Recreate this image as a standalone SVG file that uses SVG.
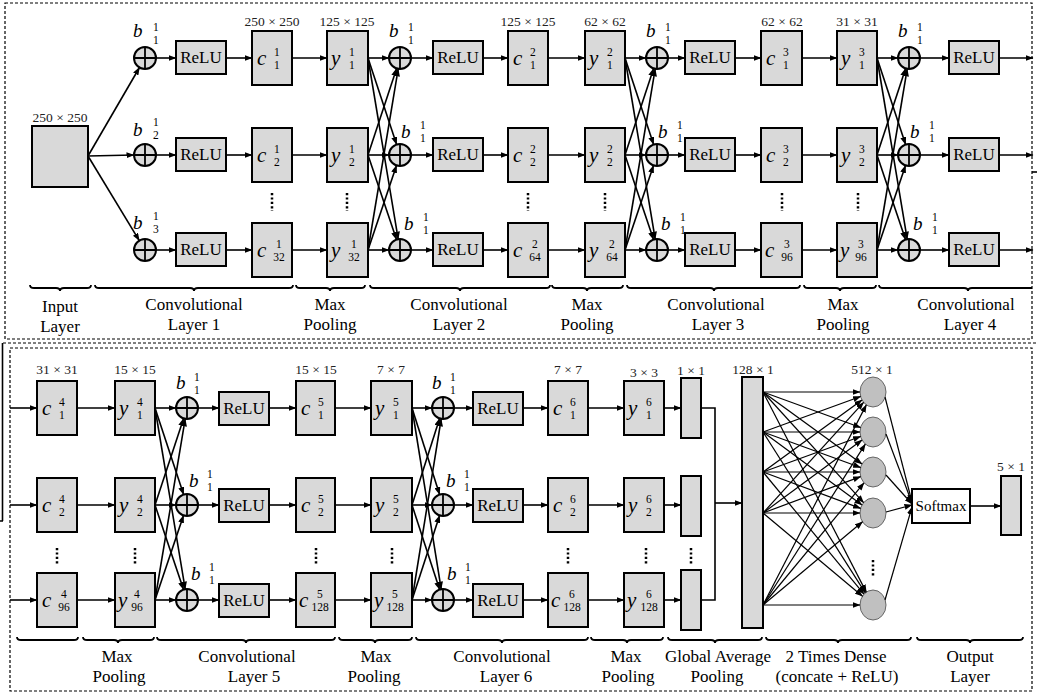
<svg xmlns="http://www.w3.org/2000/svg" width="1038" height="697" viewBox="0 0 1038 697">
<defs>
<marker id="ah" markerWidth="8" markerHeight="6" refX="7.5" refY="3" orient="auto" markerUnits="userSpaceOnUse">
<path d="M0,0 L8,3 L0,6 z" fill="#000"/>
</marker>
<g id="plus">
<circle cx="0" cy="0" r="11" fill="#d9d9d9" stroke="#000" stroke-width="2"/>
<path d="M-11,0 H11 M0,-11 V11" stroke="#000" stroke-width="1.8"/>
</g>
<ellipse id="neuron" cx="0" cy="0" rx="13" ry="15" fill="#c0c0c0" stroke="#666" stroke-width="1"/>
</defs>
<style>
.box{fill:#d9d9d9;stroke:#000;stroke-width:2}
.wbox{fill:#fff;stroke:#000;stroke-width:2}
.ln{stroke:#000;stroke-width:1.6;fill:none}
.ar{stroke:#000;stroke-width:1.6;fill:none;marker-end:url(#ah)}
.dn{stroke:#000;stroke-width:1.2;fill:none;marker-end:url(#ah)}
.br{stroke:#000;stroke-width:1.8;fill:none}
.dots{stroke:#000;stroke-width:2.5;stroke-dasharray:2.2,2.2;fill:none}
.frame{stroke:#000;stroke-width:1.2;stroke-dasharray:3,2;fill:none}
text{font-family:"Liberation Serif","Times New Roman",serif;fill:#000}
.t{font-size:17px;text-anchor:middle}
.relu{font-size:17px;text-anchor:middle}
.sz{font-size:13.5px;text-anchor:middle;fill:#222}
.v{font-size:21px;font-style:italic}
.bv{font-size:19px;font-style:italic}
.d{font-size:11.5px;font-style:normal}
.sm{font-size:15px;text-anchor:middle}
</style>

<g id="frames">
<rect class="frame" x="5" y="3" width="1027" height="336"/>
<rect class="frame" x="10" y="348" width="1022" height="343"/>
</g>

<!-- ================= TOP SECTION ================= -->
<g id="input"><rect class="box" x="32" y="126" width="56" height="61"/><text class="sz" x="60" y="122">250 × 250</text></g>

<g id="add1_1"><use href="#plus" x="145" y="58"/><text class="bv" x="133" y="37">b<tspan class="d" x="153.1" y="31.2">1</tspan><tspan class="d" x="153.1" y="44">1</tspan></text></g>
<g id="add1_2"><use href="#plus" x="145" y="155"/><text class="bv" x="133" y="136">b<tspan class="d" x="153.1" y="126.2">1</tspan><tspan class="d" x="153.1" y="139">2</tspan></text></g>
<g id="add1_3"><use href="#plus" x="145" y="250"/><text class="bv" x="133" y="229">b<tspan class="d" x="153.1" y="220.2">1</tspan><tspan class="d" x="153.1" y="233">3</tspan></text></g>
<g id="relu1_1"><rect class="box" x="176" y="41" width="50" height="33"/><text class="relu" x="201" y="63">ReLU</text></g>
<g id="relu1_2"><rect class="box" x="176" y="138" width="50" height="33"/><text class="relu" x="201" y="160">ReLU</text></g>
<g id="relu1_3"><rect class="box" x="176" y="233" width="50" height="33"/><text class="relu" x="201" y="255">ReLU</text></g>
<g id="c1_1"><rect class="box" x="252" y="31" width="40" height="54"/><text class="v" x="257" y="65">c<tspan class="d" x="274.1" y="56.2">1</tspan><tspan class="d" x="274.1" y="69">1</tspan></text><text class="sz" x="272" y="26">250 × 250</text></g>
<g id="c1_2"><rect class="box" x="252" y="128" width="40" height="54"/><text class="v" x="257" y="162">c<tspan class="d" x="274.1" y="153.2">1</tspan><tspan class="d" x="274.1" y="166">2</tspan></text></g>
<g id="c1_3"><rect class="box" x="252" y="223" width="40" height="54"/><text class="v" x="257" y="257">c<tspan class="d" x="276.1" y="248.2">1</tspan><tspan class="d" x="273.25" y="261">32</tspan></text></g>
<g id="y1_1"><rect class="box" x="327" y="31" width="41" height="54"/><text class="v" x="331" y="65">y<tspan class="d" x="349.1" y="56.2">1</tspan><tspan class="d" x="349.1" y="69">1</tspan></text><text class="sz" x="347" y="26">125 × 125</text></g>
<g id="y1_2"><rect class="box" x="327" y="128" width="41" height="54"/><text class="v" x="331" y="162">y<tspan class="d" x="349.1" y="153.2">1</tspan><tspan class="d" x="349.1" y="166">2</tspan></text></g>
<g id="y1_3"><rect class="box" x="327" y="223" width="41" height="54"/><text class="v" x="331" y="257">y<tspan class="d" x="351.1" y="248.2">1</tspan><tspan class="d" x="348.25" y="261">32</tspan></text></g>

<g id="add2_1"><use href="#plus" x="400" y="58"/><text class="bv" x="389" y="37">b<tspan class="d" x="408.1" y="31.2">1</tspan><tspan class="d" x="408.1" y="44">1</tspan></text></g>
<g id="add2_2"><use href="#plus" x="400" y="155"/><text class="bv" x="401" y="138">b<tspan class="d" x="420.1" y="129.2">1</tspan><tspan class="d" x="420.1" y="142">1</tspan></text></g>
<g id="add2_3"><use href="#plus" x="400" y="250"/><text class="bv" x="404" y="230">b<tspan class="d" x="423.1" y="221.2">1</tspan><tspan class="d" x="423.1" y="234">1</tspan></text></g>
<g id="relu2_1"><rect class="box" x="433" y="41" width="50" height="33"/><text class="relu" x="458" y="63">ReLU</text></g>
<g id="relu2_2"><rect class="box" x="433" y="138" width="50" height="33"/><text class="relu" x="458" y="160">ReLU</text></g>
<g id="relu2_3"><rect class="box" x="433" y="233" width="50" height="33"/><text class="relu" x="458" y="255">ReLU</text></g>
<g id="c2_1"><rect class="box" x="508" y="31" width="40" height="54"/><text class="v" x="513" y="65">c<tspan class="d" x="530.1" y="56.2">2</tspan><tspan class="d" x="530.1" y="69">1</tspan></text><text class="sz" x="528" y="26">125 × 125</text></g>
<g id="c2_2"><rect class="box" x="508" y="128" width="40" height="54"/><text class="v" x="513" y="162">c<tspan class="d" x="530.1" y="153.2">2</tspan><tspan class="d" x="530.1" y="166">2</tspan></text></g>
<g id="c2_3"><rect class="box" x="508" y="223" width="40" height="54"/><text class="v" x="513" y="257">c<tspan class="d" x="532.1" y="248.2">2</tspan><tspan class="d" x="529.25" y="261">64</tspan></text></g>
<g id="y2_1"><rect class="box" x="585" y="31" width="40" height="54"/><text class="v" x="589" y="65">y<tspan class="d" x="607.1" y="56.2">2</tspan><tspan class="d" x="607.1" y="69">1</tspan></text><text class="sz" x="605" y="26">62 × 62</text></g>
<g id="y2_2"><rect class="box" x="585" y="128" width="40" height="54"/><text class="v" x="589" y="162">y<tspan class="d" x="607.1" y="153.2">2</tspan><tspan class="d" x="607.1" y="166">2</tspan></text></g>
<g id="y2_3"><rect class="box" x="585" y="223" width="40" height="54"/><text class="v" x="589" y="257">y<tspan class="d" x="609.1" y="248.2">2</tspan><tspan class="d" x="606.25" y="261">64</tspan></text></g>

<g id="add3_1"><use href="#plus" x="657" y="58"/><text class="bv" x="646" y="37">b<tspan class="d" x="665.1" y="31.2">1</tspan><tspan class="d" x="665.1" y="44">1</tspan></text></g>
<g id="add3_2"><use href="#plus" x="657" y="155"/><text class="bv" x="658" y="138">b<tspan class="d" x="677.1" y="129.2">1</tspan><tspan class="d" x="677.1" y="142">1</tspan></text></g>
<g id="add3_3"><use href="#plus" x="657" y="250"/><text class="bv" x="661" y="230">b<tspan class="d" x="680.1" y="221.2">1</tspan><tspan class="d" x="680.1" y="234">1</tspan></text></g>
<g id="relu3_1"><rect class="box" x="685" y="41" width="50" height="33"/><text class="relu" x="710" y="63">ReLU</text></g>
<g id="relu3_2"><rect class="box" x="685" y="138" width="50" height="33"/><text class="relu" x="710" y="160">ReLU</text></g>
<g id="relu3_3"><rect class="box" x="685" y="233" width="50" height="33"/><text class="relu" x="710" y="255">ReLU</text></g>
<g id="c3_1"><rect class="box" x="761" y="31" width="41" height="54"/><text class="v" x="766" y="65">c<tspan class="d" x="783.1" y="56.2">3</tspan><tspan class="d" x="783.1" y="69">1</tspan></text><text class="sz" x="782" y="26">62 × 62</text></g>
<g id="c3_2"><rect class="box" x="761" y="128" width="41" height="54"/><text class="v" x="766" y="162">c<tspan class="d" x="783.1" y="153.2">3</tspan><tspan class="d" x="783.1" y="166">2</tspan></text></g>
<g id="c3_3"><rect class="box" x="761" y="223" width="41" height="54"/><text class="v" x="765" y="257">c<tspan class="d" x="784.1" y="248.2">3</tspan><tspan class="d" x="781.25" y="261">96</tspan></text></g>
<g id="y3_1"><rect class="box" x="837" y="31" width="40" height="54"/><text class="v" x="841" y="65">y<tspan class="d" x="859.1" y="56.2">3</tspan><tspan class="d" x="859.1" y="69">1</tspan></text><text class="sz" x="857" y="26">31 × 31</text></g>
<g id="y3_2"><rect class="box" x="837" y="128" width="40" height="54"/><text class="v" x="841" y="162">y<tspan class="d" x="859.1" y="153.2">3</tspan><tspan class="d" x="859.1" y="166">2</tspan></text></g>
<g id="y3_3"><rect class="box" x="837" y="223" width="40" height="54"/><text class="v" x="840" y="257">y<tspan class="d" x="858.1" y="248.2">3</tspan><tspan class="d" x="855.25" y="261">96</tspan></text></g>

<g id="add4_1"><use href="#plus" x="909" y="58"/><text class="bv" x="898" y="37">b<tspan class="d" x="917.1" y="31.2">1</tspan><tspan class="d" x="917.1" y="44">1</tspan></text></g>
<g id="add4_2"><use href="#plus" x="909" y="155"/><text class="bv" x="910" y="138">b<tspan class="d" x="929.1" y="129.2">1</tspan><tspan class="d" x="929.1" y="142">1</tspan></text></g>
<g id="add4_3"><use href="#plus" x="909" y="250"/><text class="bv" x="913" y="230">b<tspan class="d" x="932.1" y="221.2">1</tspan><tspan class="d" x="932.1" y="234">1</tspan></text></g>
<g id="relu4_1"><rect class="box" x="949" y="41" width="50" height="33"/><text class="relu" x="974" y="63">ReLU</text></g>
<g id="relu4_2"><rect class="box" x="949" y="138" width="50" height="33"/><text class="relu" x="974" y="160">ReLU</text></g>
<g id="relu4_3"><rect class="box" x="949" y="233" width="50" height="33"/><text class="relu" x="974" y="255">ReLU</text></g>

<!-- ================= BOTTOM SECTION ================= -->
<g id="c4_1"><rect class="box" x="37" y="381" width="40" height="54"/><text class="v" x="42" y="415">c<tspan class="d" x="59.1" y="406.2">4</tspan><tspan class="d" x="59.1" y="419">1</tspan></text><text class="sz" x="57" y="374">31 × 31</text></g>
<g id="c4_2"><rect class="box" x="37" y="478" width="40" height="54"/><text class="v" x="42" y="512">c<tspan class="d" x="59.1" y="503.2">4</tspan><tspan class="d" x="59.1" y="516">2</tspan></text></g>
<g id="c4_3"><rect class="box" x="37" y="573" width="40" height="54"/><text class="v" x="42" y="607">c<tspan class="d" x="61.1" y="598.2">4</tspan><tspan class="d" x="58.25" y="611">96</tspan></text></g>
<g id="y4_1"><rect class="box" x="115" y="381" width="40" height="54"/><text class="v" x="119" y="415">y<tspan class="d" x="137.1" y="406.2">4</tspan><tspan class="d" x="137.1" y="419">1</tspan></text><text class="sz" x="135" y="374">15 × 15</text></g>
<g id="y4_2"><rect class="box" x="115" y="478" width="40" height="54"/><text class="v" x="119" y="512">y<tspan class="d" x="137.1" y="503.2">4</tspan><tspan class="d" x="137.1" y="516">2</tspan></text></g>
<g id="y4_3"><rect class="box" x="115" y="573" width="40" height="54"/><text class="v" x="118" y="607">y<tspan class="d" x="134.1" y="598.2">4</tspan><tspan class="d" x="131.25" y="611">96</tspan></text></g>

<g id="add5_1"><use href="#plus" x="187" y="408"/><text class="bv" x="176" y="389">b<tspan class="d" x="194.1" y="381.2">1</tspan><tspan class="d" x="194.1" y="394">1</tspan></text></g>
<g id="add5_2"><use href="#plus" x="187" y="505"/><text class="bv" x="189" y="487">b<tspan class="d" x="207.1" y="478.2">1</tspan><tspan class="d" x="207.1" y="491">1</tspan></text></g>
<g id="add5_3"><use href="#plus" x="187" y="600"/><text class="bv" x="191" y="580">b<tspan class="d" x="209.1" y="571.2">1</tspan><tspan class="d" x="209.1" y="584">1</tspan></text></g>
<g id="relu5_1"><rect class="box" x="219" y="392" width="50" height="33"/><text class="relu" x="244" y="414">ReLU</text></g>
<g id="relu5_2"><rect class="box" x="219" y="489" width="50" height="33"/><text class="relu" x="244" y="511">ReLU</text></g>
<g id="relu5_3"><rect class="box" x="219" y="584" width="50" height="33"/><text class="relu" x="244" y="606">ReLU</text></g>
<g id="c5_1"><rect class="box" x="296" y="381" width="39" height="54"/><text class="v" x="301" y="415">c<tspan class="d" x="318.1" y="406.2">5</tspan><tspan class="d" x="318.1" y="419">1</tspan></text><text class="sz" x="316" y="374">15 × 15</text></g>
<g id="c5_2"><rect class="box" x="296" y="478" width="39" height="54"/><text class="v" x="301" y="512">c<tspan class="d" x="318.1" y="503.2">5</tspan><tspan class="d" x="318.1" y="516">2</tspan></text></g>
<g id="c5_3"><rect class="box" x="296" y="573" width="39" height="54"/><text class="v" x="299" y="607">c<tspan class="d" x="317.1" y="598.2">5</tspan><tspan class="d" x="311.4" y="611">128</tspan></text></g>
<g id="y5_1"><rect class="box" x="371" y="381" width="41" height="54"/><text class="v" x="375" y="415">y<tspan class="d" x="393.1" y="406.2">5</tspan><tspan class="d" x="393.1" y="419">1</tspan></text><text class="sz" x="391" y="374">7 × 7</text></g>
<g id="y5_2"><rect class="box" x="371" y="478" width="41" height="54"/><text class="v" x="375" y="512">y<tspan class="d" x="393.1" y="503.2">5</tspan><tspan class="d" x="393.1" y="516">2</tspan></text></g>
<g id="y5_3"><rect class="box" x="371" y="573" width="41" height="54"/><text class="v" x="374" y="607">y<tspan class="d" x="392.1" y="598.2">5</tspan><tspan class="d" x="386.4" y="611">128</tspan></text></g>

<g id="add6_1"><use href="#plus" x="443" y="408"/><text class="bv" x="432" y="389">b<tspan class="d" x="450.1" y="381.2">1</tspan><tspan class="d" x="450.1" y="394">1</tspan></text></g>
<g id="add6_2"><use href="#plus" x="443" y="505"/><text class="bv" x="446" y="487">b<tspan class="d" x="464.1" y="478.2">1</tspan><tspan class="d" x="464.1" y="491">1</tspan></text></g>
<g id="add6_3"><use href="#plus" x="443" y="600"/><text class="bv" x="447" y="580">b<tspan class="d" x="465.1" y="571.2">1</tspan><tspan class="d" x="465.1" y="584">1</tspan></text></g>
<g id="relu6_1"><rect class="box" x="473" y="392" width="50" height="33"/><text class="relu" x="498" y="414">ReLU</text></g>
<g id="relu6_2"><rect class="box" x="473" y="489" width="50" height="33"/><text class="relu" x="498" y="511">ReLU</text></g>
<g id="relu6_3"><rect class="box" x="473" y="584" width="50" height="33"/><text class="relu" x="498" y="606">ReLU</text></g>
<g id="c6_1"><rect class="box" x="548" y="381" width="40" height="54"/><text class="v" x="553" y="415">c<tspan class="d" x="570.1" y="406.2">6</tspan><tspan class="d" x="570.1" y="419">1</tspan></text><text class="sz" x="568" y="374">7 × 7</text></g>
<g id="c6_2"><rect class="box" x="548" y="478" width="40" height="54"/><text class="v" x="553" y="512">c<tspan class="d" x="570.1" y="503.2">6</tspan><tspan class="d" x="570.1" y="516">2</tspan></text></g>
<g id="c6_3"><rect class="box" x="548" y="573" width="40" height="54"/><text class="v" x="551" y="607">c<tspan class="d" x="569.1" y="598.2">6</tspan><tspan class="d" x="563.4" y="611">128</tspan></text></g>
<g id="y6_1"><rect class="box" x="624" y="381" width="40" height="54"/><text class="v" x="628" y="415">y<tspan class="d" x="646.1" y="406.2">6</tspan><tspan class="d" x="646.1" y="419">1</tspan></text><text class="sz" x="644" y="377">3 × 3</text></g>
<g id="y6_2"><rect class="box" x="624" y="478" width="40" height="54"/><text class="v" x="628" y="512">y<tspan class="d" x="646.1" y="503.2">6</tspan><tspan class="d" x="646.1" y="516">2</tspan></text></g>
<g id="y6_3"><rect class="box" x="624" y="573" width="40" height="54"/><text class="v" x="627" y="607">y<tspan class="d" x="646.1" y="598.2">6</tspan><tspan class="d" x="640.4" y="611">128</tspan></text></g>

<g id="gap_1"><rect class="box" x="681" y="378" width="20" height="60"/><text class="sz" x="691" y="375">1 × 1</text></g>
<g id="gap_2"><rect class="box" x="681" y="476" width="20" height="60"/></g>
<g id="gap_3"><rect class="box" x="681" y="570" width="20" height="60"/></g>
<g id="concat"><rect class="box" x="742" y="377" width="21" height="251"/><text class="sz" x="753" y="374">128 × 1</text></g>
<g id="dense"><text class="sz" x="872" y="374">512 × 1</text>
<use href="#neuron" x="873" y="392"/><use href="#neuron" x="873" y="432"/><use href="#neuron" x="873" y="472"/><use href="#neuron" x="873" y="513"/><use href="#neuron" x="873" y="605"/></g>
<g id="softmax"><rect class="wbox" x="912" y="489" width="58" height="34"/><text class="sm" x="941" y="511">Softmax</text></g>
<g id="output"><rect class="box" x="1001" y="476" width="20" height="59"/><text class="sz" x="1011" y="471">5 × 1</text></g>

<g id="ellipses">
<path class="dots" d="M272,193 V211 M347,193 V211 M528,193 V211 M605,193 V211 M782,193 V211 M858,193 V211"/>
<path class="dots" d="M57,548 V564 M135,548 V564 M316,548 V564 M392,548 V564 M568,548 V564 M646,548 V564 M691,548 V564 M873,560 V577"/>
</g>

<!-- ================= CONNECTORS ================= -->
<g id="connectors">
<path class="ar" d="M88,156 L139.5,67.5"/>
<path class="ar" d="M88,156 L134,155"/>
<path class="ar" d="M88,156 L139.3,240.6"/>
<path class="ar" d="M156,58 H176"/><path class="ar" d="M226,58 H252"/><path class="ar" d="M292,58 H327"/>
<path class="ar" d="M156,155 H176"/><path class="ar" d="M226,155 H252"/><path class="ar" d="M292,155 H327"/>
<path class="ar" d="M156,250 H176"/><path class="ar" d="M226,250 H252"/><path class="ar" d="M292,250 H327"/>
<path class="ar" d="M368,58 H389"/><path class="ar" d="M368,58 L396.6,144.5"/><path class="ar" d="M368,58 L398.2,239.1"/>
<path class="ar" d="M368,155 L396.6,68.5"/><path class="ar" d="M368,155 H389"/><path class="ar" d="M368,155 L396.5,239.6"/>
<path class="ar" d="M368,250 L398.2,68.9"/><path class="ar" d="M368,250 L396.5,165.4"/><path class="ar" d="M368,250 H389"/>
<path class="ar" d="M411,58 H433"/><path class="ar" d="M483,58 H508"/><path class="ar" d="M548,58 H585"/>
<path class="ar" d="M411,155 H433"/><path class="ar" d="M483,155 H508"/><path class="ar" d="M548,155 H585"/>
<path class="ar" d="M411,250 H433"/><path class="ar" d="M483,250 H508"/><path class="ar" d="M548,250 H585"/>
<path class="ar" d="M625,58 H646"/><path class="ar" d="M625,58 L653.6,144.5"/><path class="ar" d="M625,58 L655.2,239.1"/>
<path class="ar" d="M625,155 L653.6,68.5"/><path class="ar" d="M625,155 H646"/><path class="ar" d="M625,155 L653.5,239.6"/>
<path class="ar" d="M625,250 L655.2,68.9"/><path class="ar" d="M625,250 L653.5,165.4"/><path class="ar" d="M625,250 H646"/>
<path class="ar" d="M668,58 H685"/><path class="ar" d="M735,58 H761"/><path class="ar" d="M802,58 H837"/>
<path class="ar" d="M668,155 H685"/><path class="ar" d="M735,155 H761"/><path class="ar" d="M802,155 H837"/>
<path class="ar" d="M668,250 H685"/><path class="ar" d="M735,250 H761"/><path class="ar" d="M802,250 H837"/>
<path class="ar" d="M877,58 H898"/><path class="ar" d="M877,58 L905.6,144.5"/><path class="ar" d="M877,58 L907.2,239.1"/>
<path class="ar" d="M877,155 L905.6,68.5"/><path class="ar" d="M877,155 H898"/><path class="ar" d="M877,155 L905.5,239.6"/>
<path class="ar" d="M877,250 L907.2,68.9"/><path class="ar" d="M877,250 L905.5,165.4"/><path class="ar" d="M877,250 H898"/>
<path class="ar" d="M920,58 H949"/><path class="ar" d="M999,58 H1033"/>
<path class="ar" d="M920,155 H949"/><path class="ar" d="M999,155 H1033"/>
<path class="ar" d="M920,250 H949"/><path class="ar" d="M999,250 H1033"/>
<path class="ln" d="M1032,172 H1037"/>
<path class="frame" d="M3,343 H1036"/>
<path class="ln" d="M2.5,343 V521 M0,521 H3"/>
<path class="ar" d="M10,408 H37"/><path class="ar" d="M10,505 H37"/><path class="ar" d="M10,600 H37"/>
<path class="ar" d="M77,408 H115"/><path class="ar" d="M77,505 H115"/><path class="ar" d="M77,600 H115"/>
<path class="ar" d="M155,408 H176"/><path class="ar" d="M155,408 L183.6,494.6"/><path class="ar" d="M155,408 L185.2,589.1"/>
<path class="ar" d="M155,505 L183.6,418.5"/><path class="ar" d="M155,505 H176"/><path class="ar" d="M155,505 L183.5,589.6"/>
<path class="ar" d="M155,600 L185.2,418.9"/><path class="ar" d="M155,600 L183.5,515.4"/><path class="ar" d="M155,600 H176"/>
<path class="ar" d="M198,408 H219"/><path class="ar" d="M269,408 H296"/><path class="ar" d="M335,408 H371"/>
<path class="ar" d="M198,505 H219"/><path class="ar" d="M269,505 H296"/><path class="ar" d="M335,505 H371"/>
<path class="ar" d="M198,600 H219"/><path class="ar" d="M269,600 H296"/><path class="ar" d="M335,600 H371"/>
<path class="ar" d="M412,408 H432"/><path class="ar" d="M412,408 L439.6,494.5"/><path class="ar" d="M412,408 L441.2,589.1"/>
<path class="ar" d="M412,505 L439.6,418.5"/><path class="ar" d="M412,505 H432"/><path class="ar" d="M412,505 L439.6,589.6"/>
<path class="ar" d="M412,600 L441.2,418.9"/><path class="ar" d="M412,600 L439.6,515.4"/><path class="ar" d="M412,600 H432"/>
<path class="ar" d="M454,408 H473"/><path class="ar" d="M523,408 H548"/><path class="ar" d="M588,408 H624"/><path class="ar" d="M664,408 H681"/>
<path class="ar" d="M454,505 H473"/><path class="ar" d="M523,505 H548"/><path class="ar" d="M588,505 H624"/><path class="ar" d="M664,505 H681"/>
<path class="ar" d="M454,600 H473"/><path class="ar" d="M523,600 H548"/><path class="ar" d="M588,600 H624"/><path class="ar" d="M664,600 H681"/>
<path class="ln" d="M701,408 H715 V600 H701"/>
<path class="ar" d="M715,503 H742"/>
<path class="dn" d="M763,392 L860,392"/><path class="dn" d="M763,392 L860.6,427.5"/><path class="dn" d="M763,392 L862,464"/><path class="dn" d="M763,392 L863.6,502.7"/><path class="dn" d="M763,392 L866.3,592.1"/>
<path class="dn" d="M763,432 L860.6,396.5"/><path class="dn" d="M763,432 L860,432"/><path class="dn" d="M763,432 L860.6,467.5"/><path class="dn" d="M763,432 L862,504.9"/><path class="dn" d="M763,432 L865.3,592.9"/>
<path class="dn" d="M763,472 L862,400"/><path class="dn" d="M763,472 L860.6,436.5"/><path class="dn" d="M763,472 L860,472"/><path class="dn" d="M763,472 L860.6,508.4"/><path class="dn" d="M763,472 L864,594.1"/>
<path class="dn" d="M763,513 L863.6,402.3"/><path class="dn" d="M763,513 L862,440.1"/><path class="dn" d="M763,513 L860.6,476.6"/><path class="dn" d="M763,513 L860,513"/><path class="dn" d="M763,513 L862.5,596.2"/>
<path class="dn" d="M763,605 L866.3,404.9"/><path class="dn" d="M763,605 L865.3,444.1"/><path class="dn" d="M763,605 L864,482.9"/><path class="dn" d="M763,605 L862.5,521.8"/><path class="dn" d="M763,605 L860,605"/>
<path class="dn" d="M885,397 L912,502"/><path class="dn" d="M886,434 L912,503"/><path class="dn" d="M886,475 L912,504"/><path class="dn" d="M886,512 L912,505"/><path class="dn" d="M885,600 L912,507"/>
<path class="ar" d="M970,506 H1001"/>
</g>

<g id="braces">
<path class="br" d="M30,285 Q30,288 34,288 H56 Q60,288 60,291 Q60,288 64,288 H87 Q91,288 91,285"/>
<path class="br" d="M95,285 Q95,288 99,288 H190 Q194,288 194,291 Q194,288 198,288 H289 Q293,288 293,285"/>
<path class="br" d="M296,285 Q296,288 300,288 H326 Q330,288 330,291 Q330,288 334,288 H361 Q365,288 365,285"/>
<path class="br" d="M370,285 Q370,288 374,288 H456 Q460,288 460,291 Q460,288 464,288 H546 Q550,288 550,285"/>
<path class="br" d="M552,285 Q552,288 556,288 H583 Q587,288 587,291 Q587,288 591,288 H619 Q623,288 623,285"/>
<path class="br" d="M627,285 Q627,288 631,288 H710 Q714,288 714,291 Q714,288 718,288 H796 Q800,288 800,285"/>
<path class="br" d="M804,285 Q804,288 808,288 H836 Q840,288 840,291 Q840,288 844,288 H872 Q876,288 876,285"/>
<path class="br" d="M879,285 Q879,288 883,288 H964 Q968,288 968,291 Q968,288 972,288 H1032"/>
<path class="br" d="M17,637 Q17,640 21,640 H74 Q78,640 78,637"/>
<path class="br" d="M83,637 Q83,640 87,640 H114 Q118,640 118,643 Q118,640 122,640 H150 Q154,640 154,637"/>
<path class="br" d="M157,637 Q157,640 161,640 H242 Q246,640 246,643 Q246,640 250,640 H331 Q335,640 335,637"/>
<path class="br" d="M339,637 Q339,640 343,640 H371 Q375,640 375,643 Q375,640 379,640 H408 Q412,640 412,637"/>
<path class="br" d="M416,637 Q416,640 420,640 H498 Q502,640 502,643 Q502,640 506,640 H584 Q588,640 588,637"/>
<path class="br" d="M591,637 Q591,640 595,640 H623 Q627,640 627,643 Q627,640 631,640 H659 Q663,640 663,637"/>
<path class="br" d="M668,637 Q668,640 672,640 H711 Q715,640 715,643 Q715,640 719,640 H758 Q762,640 762,637"/>
<path class="br" d="M766,637 Q766,640 770,640 H834 Q838,640 838,643 Q838,640 842,640 H907 Q911,640 911,637"/>
<path class="br" d="M917,637 Q917,640 921,640 H966 Q970,640 970,643 Q970,640 974,640 H1019 Q1023,640 1023,637"/>
</g>
<g id="labels">
<text class="t" x="60" y="312">Input</text><text class="t" x="60" y="332">Layer</text>
<text class="t" x="194" y="310">Convolutional</text><text class="t" x="194" y="330">Layer 1</text>
<text class="t" x="330" y="310">Max</text><text class="t" x="330" y="330">Pooling</text>
<text class="t" x="459" y="310">Convolutional</text><text class="t" x="459" y="330">Layer 2</text>
<text class="t" x="587" y="310">Max</text><text class="t" x="587" y="330">Pooling</text>
<text class="t" x="716" y="310">Convolutional</text><text class="t" x="718" y="330">Layer 3</text>
<text class="t" x="843" y="310">Max</text><text class="t" x="843" y="330">Pooling</text>
<text class="t" x="966" y="310">Convolutional</text><text class="t" x="970" y="330">Layer 4</text>
<text class="t" x="117" y="662">Max</text><text class="t" x="119" y="682">Pooling</text>
<text class="t" x="247" y="662">Convolutional</text><text class="t" x="254" y="682">Layer 5</text>
<text class="t" x="376" y="662">Max</text><text class="t" x="374" y="682">Pooling</text>
<text class="t" x="502" y="662">Convolutional</text><text class="t" x="506" y="682">Layer 6</text>
<text class="t" x="626" y="662">Max</text><text class="t" x="628" y="682">Pooling</text>
<text class="t" x="718" y="662">Global Average</text><text class="t" x="717" y="682">Pooling</text>
<text class="t" x="836" y="662">2 Times Dense</text><text class="t" x="837" y="682">(concate + ReLU)</text>
<text class="t" x="970" y="662">Output</text><text class="t" x="970" y="682">Layer</text>
</g>
</svg>
